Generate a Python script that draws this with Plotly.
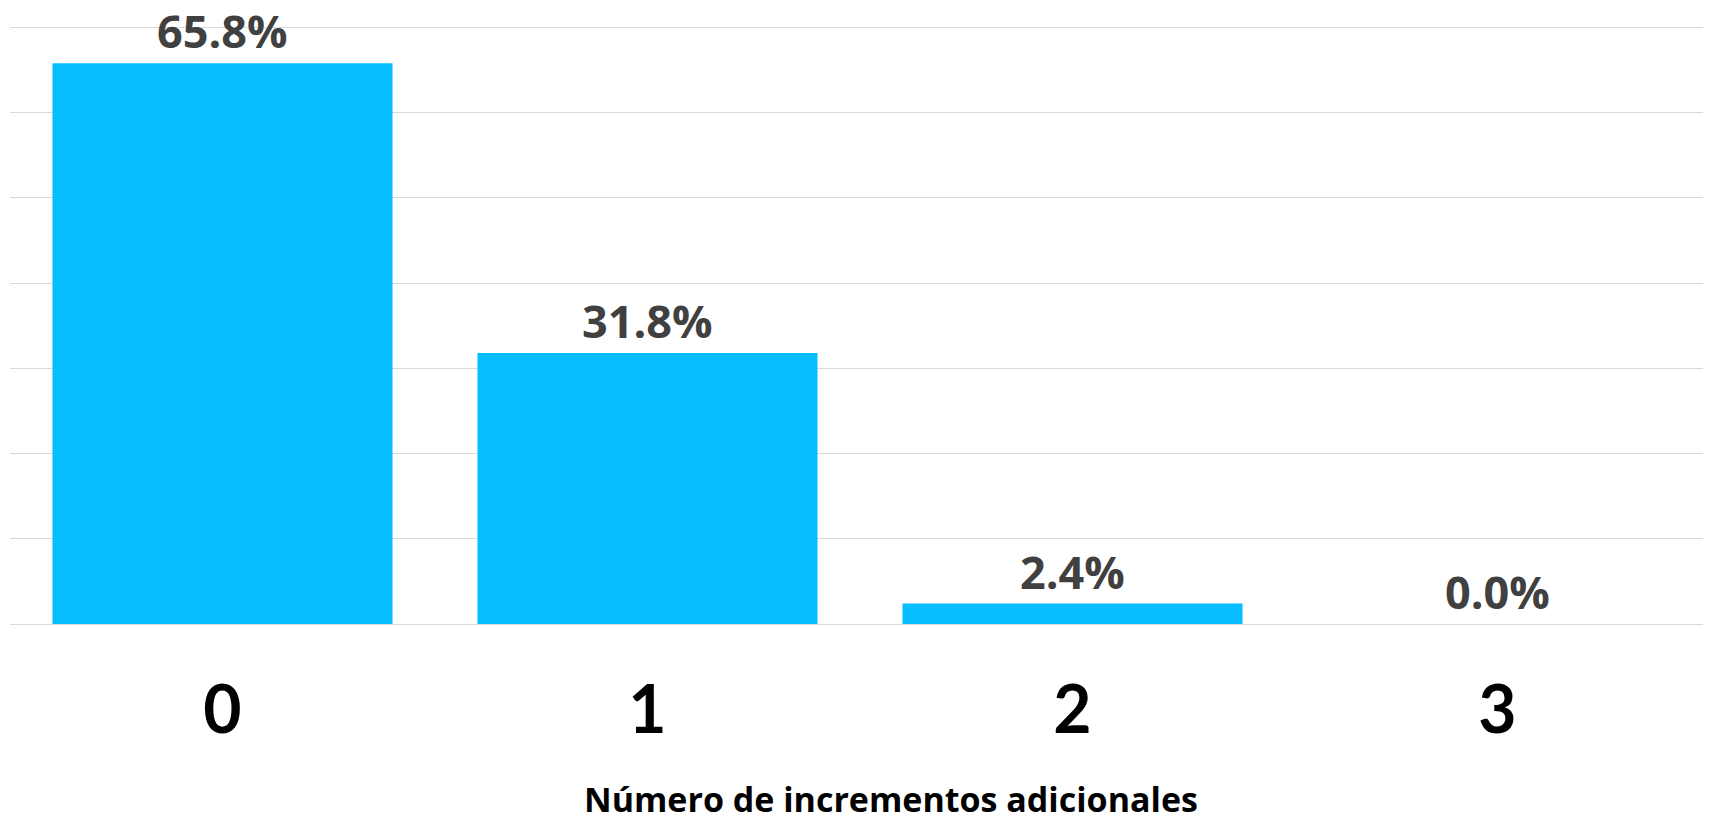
import plotly.graph_objects as go

# datos
categorias = ["0", "1", "2", "3"]
porcentajes = [65.8, 31.8, 2.4, 0.0]
etiquetas = [f"{v:.1f}%" for v in porcentajes]

fig = go.Figure()
fig.add_trace(go.Bar(
    x=categorias,
    y=porcentajes,
    marker=dict(color="#06BEFF", line=dict(width=0)),
    width=0.8,
    hoverinfo="x+y",
))

# etiquetas de datos sobre cada barra
for c, v, t in zip(categorias, porcentajes, etiquetas):
    fig.add_annotation(
        x=c, y=v, text=f"<b>{t}</b>", showarrow=False,
        yanchor="bottom", yshift=0,
        font=dict(family="Open Sans", size=45, color="#404040"),
    )

# titulo del eje
fig.add_annotation(
    x=0.5185, y=-0.289, xref="paper", yref="paper",
    text="<b>Número de incrementos adicionales</b>", showarrow=False,
    yanchor="middle",
    font=dict(family="Open Sans", size=34, color="#000000"),
)

# la pagina tiene 8px de margen en el body
fig.update_layout(
    width=1703, height=808,
    margin=dict(l=2, r=1, t=11, b=192, autoexpand=False),
    paper_bgcolor="white", plot_bgcolor="white",
    showlegend=False,
    bargap=0.2,
)
fig.update_xaxes(
    type="category",
    tickfont=dict(family="Lato", size=66, color="#000000"),
    ticks="", showline=False, showgrid=False,
    ticklabelstandoff=42, automargin=False,
    tickprefix="<b>", ticksuffix="</b>",
)
fig.update_yaxes(
    range=[0, 71], tickvals=[0, 10, 20, 30, 40, 50, 60, 70], automargin=False,
    showticklabels=False, showgrid=True,
    gridcolor="#D9D9D9", gridwidth=1,
    zeroline=True, zerolinecolor="#D9D9D9", zerolinewidth=1,
)

fig.write_html("out.html")
